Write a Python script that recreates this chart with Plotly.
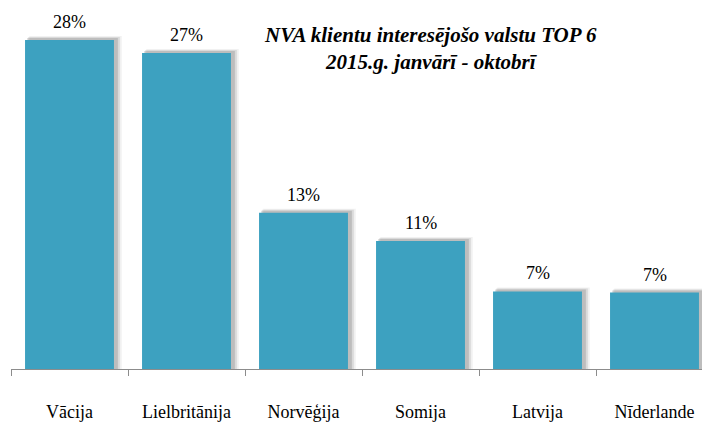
import plotly.graph_objects as go

categories = ["Vācija", "Lielbritānija", "Norvēģija", "Somija", "Latvija", "Nīderlande"]
values = [28.0, 26.9, 13.3, 10.9, 6.6, 6.5]
value_labels = ["28%", "27%", "13%", "11%", "7%", "7%"]
title_lines = ["NVA klientu interesējošo valstu TOP 6", "2015.g. janvārī - oktobrī"]

BAR_COLOR = "#3DA1C0"
FONT = "Liberation Serif, Times New Roman, serif"

W, H = 702, 423
ml, mr, mt, mb = 11, 0, 0, 54
plot_w = W - ml - mr
plot_h = H - mt - mb
px_per_cat = 117.0
x_lo = -0.5
x_hi = x_lo + plot_w / px_per_cat
y_hi = 31.4
px_per_val = plot_h / y_hi

bar_w = 0.76

fig = go.Figure()

# soft shadow layers (offset right and up, blurred)
shadow_layers = [
    (6, 4, 0.07),
    (4.5, 3, 0.12),
    (3, 2, 0.18),
]
for dx_px, dy_px, op in shadow_layers:
    dx = dx_px / px_per_cat
    dy = dy_px / px_per_val
    fig.add_trace(go.Bar(
        x=list(range(len(categories))),
        y=[v + dy for v in values],
        width=bar_w + dx * 0.6,
        offset=-bar_w / 2 + dx * 0.7,
        marker=dict(color="rgba(60,60,60,%.2f)" % op, line=dict(width=0)),
        hoverinfo="skip",
        showlegend=False,
    ))

fig.add_trace(go.Bar(
    x=list(range(len(categories))),
    y=values,
    width=bar_w,
    marker=dict(color=BAR_COLOR, line=dict(width=0)),
    showlegend=False,
    hovertemplate="%{customdata}<extra></extra>",
    customdata=value_labels,
))

for i, (v, lab) in enumerate(zip(values, value_labels)):
    fig.add_annotation(
        x=i, y=v, text=lab, showarrow=False,
        yanchor="bottom", yshift=6,
        font=dict(family=FONT, size=18, color="#000000"),
    )

fig.add_annotation(
    xref="paper", yref="paper",
    x=(430 - ml) / plot_w, y=1 - (49 - mt) / plot_h,
    text="<b><i>" + title_lines[0] + "<br>" + title_lines[1] + "</i></b>",
    showarrow=False, xanchor="center", yanchor="middle",
    font=dict(family=FONT, size=21, color="#000000"),
)

fig.update_layout(
    width=W, height=H,
    margin=dict(l=ml, r=mr, t=mt, b=mb),
    paper_bgcolor="white", plot_bgcolor="white",
    barmode="overlay",
    xaxis=dict(
        range=[x_lo, x_hi],
        tickmode="array",
        tickvals=list(range(len(categories))),
        ticktext=categories,
        showgrid=False, zeroline=False,
        showline=True, linecolor="#8C8C8C", linewidth=1,
        ticks="", ticklen=6,
        tickfont=dict(family=FONT, size=18, color="#000000"),
        ticklabelstandoff=26,
        minor=dict(
            tickmode="array",
            tickvals=[i - 0.5 for i in range(len(categories) + 1)],
            ticks="outside", ticklen=6, tickcolor="#8C8C8C", tickwidth=1,
            showgrid=False,
        ),
    ),
    yaxis=dict(
        range=[0, y_hi], visible=False, showgrid=False, zeroline=False,
    ),
)

fig.write_html(
    "out.html",
    config={"displayModeBar": False},
    post_script="document.body.style.margin='0';document.body.style.padding='0';",
)
